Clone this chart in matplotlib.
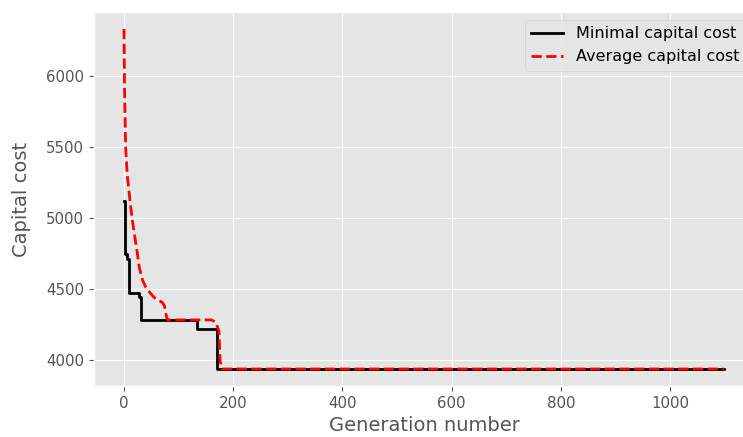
import matplotlib
matplotlib.use("Agg")
import matplotlib.pyplot as plt

# best individual per generation (breakpoints, constant until the next one)
min_gen = [0, 2, 5, 9, 27, 31, 134, 171, 1099]
min_cost = [5120, 4746, 4709, 4467, 4440, 4280, 4216, 3934, 3934]

# population average per generation
avg_gen = [0, 1, 3, 6, 11, 15, 19, 24, 28, 34, 40, 48, 55, 62, 70, 74, 78, 80,
           160, 168, 174, 176, 180, 1099]
avg_cost = [6330, 5900, 5495, 5300, 5120, 4990, 4887, 4760, 4650, 4560, 4509,
            4470, 4439, 4420, 4404, 4380, 4300, 4280, 4280, 4265, 4200, 3990,
            3934, 3934]


def plotData():
    plt.style.use("ggplot")
    fig = plt.figure(figsize=(7.43, 4.37), dpi=100)
    # axes run a little past the right edge, as in the cropped original
    ax = fig.add_axes([94 / 743, 51 / 437, 660 / 743, 374 / 437])

    ax.plot(min_gen, min_cost, color="black", lw=2, drawstyle="steps-post",
            label="Minimal capital cost")
    ax.plot(avg_gen, avg_cost, "--", color="red", lw=2,
            label="Average capital cost")

    ax.set_xlabel("Generation number", fontsize=14, color="#555555", labelpad=4)
    ax.set_ylabel("Capital cost", fontsize=14, color="#555555", labelpad=11)
    ax.tick_params(labelsize=10.8, colors="#555555")
    ax.set_xticks([0, 200, 400, 600, 800, 1000])
    ax.set_yticks([4000, 4500, 5000, 5500, 6000])
    ax.legend(loc="upper right", fontsize=11.5)

    fig.savefig("out.png", dpi=100)


if __name__ == "__main__":
    plotData()
